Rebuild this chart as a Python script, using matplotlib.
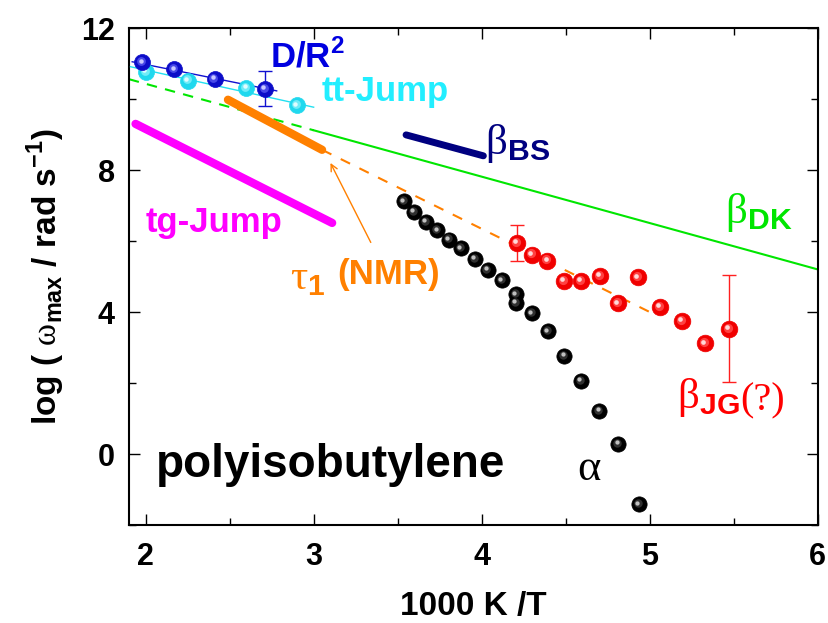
import matplotlib
matplotlib.use("Agg")
import matplotlib.pyplot as plt
from matplotlib.transforms import offset_copy
from matplotlib.ticker import MultipleLocator

plt.rcParams['font.family'] = ['Liberation Sans', 'DejaVu Sans']
plt.rcParams['mathtext.fontset'] = 'custom'
plt.rcParams['mathtext.rm'] = 'Liberation Sans:weight=bold'
plt.rcParams['mathtext.bf'] = 'Liberation Sans:weight=bold'
plt.rcParams['mathtext.sf'] = 'Liberation Serif:weight=normal'

# D/R^2 (blue spheres) and fit line
dr_x = [1.98, 2.17, 2.41, 2.71]
dr_y = [11.03, 10.84, 10.57, 10.29]
dr_err_x = [2.71]
dr_err_y = [10.29]
dr_err = [0.5]
dr_line_x = [1.92, 2.78]
dr_line_y = [11.05, 10.23]

# tt-Jump (cyan spheres) and fit line
tt_x = [2.00, 2.25, 2.60, 2.90]
tt_y = [10.77, 10.52, 10.31, 9.82]
tt_line_x = [1.91, 3.00]
tt_line_y = [10.91, 9.77]

# beta_DK: dashed part and solid part
dk_dash_x = [1.90, 3.00]
dk_dash_y = [10.56, 9.12]
dk_x = [3.00, 6.00]
dk_y = [9.12, 5.20]

# tau_1 (NMR) thick line and its dashed extrapolation
tau_x = [2.49, 3.05]
tau_y = [9.98, 8.57]
tau_ext_x = [3.05, 5.00]
tau_ext_y = [8.57, 4.00]

# beta_BS and tg-Jump thick lines
bs_x = [3.55, 4.01]
bs_y = [8.99, 8.40]
tg_x = [1.94, 3.11]
tg_y = [9.30, 6.51]

# alpha (black spheres)
alpha_x = [3.538, 3.597, 3.667, 3.737, 3.806, 3.876, 3.959, 4.035, 4.121,
           4.204, 4.204, 4.299, 4.393, 4.492, 4.592, 4.701, 4.814, 4.934]
alpha_y = [7.12, 6.82, 6.54, 6.30, 6.04, 5.79, 5.50, 5.18, 4.89,
           4.50, 4.26, 3.96, 3.46, 2.76, 2.06, 1.22, 0.28, -1.42]

# beta_JG (red spheres)
jg_x = [4.21, 4.30, 4.39, 4.49, 4.59, 4.705, 4.81, 4.93, 5.06, 5.19, 5.33, 5.47]
jg_y = [5.95, 5.62, 5.45, 4.87, 4.87, 5.01, 4.24, 4.98, 4.15, 3.75, 3.12, 3.53]
jg_err_x = [4.21, 5.47]
jg_err_y = [5.95, 3.53]
jg_err = [0.5, 1.5]


def spheres(ax, x, y, base, mid, hl, ms, z=5):
    ax.plot(x, y, 'o', ms=ms, mfc=base, mec=base, mew=0.5, ls='none', zorder=z)
    t1 = offset_copy(ax.transData, fig=ax.figure, x=-0.8, y=0.8, units='points')
    ax.plot(x, y, 'o', ms=ms * 0.55, mfc=mid, mec='none', ls='none',
            zorder=z + 0.1, transform=t1)
    t2 = offset_copy(ax.transData, fig=ax.figure, x=-1.2, y=1.2, units='points')
    ax.plot(x, y, 'o', ms=ms * 0.28, mfc=hl, mec='none', ls='none',
            zorder=z + 0.2, transform=t2)


fig = plt.figure(figsize=(8.29, 6.23), dpi=100)
ax = fig.add_axes([0.1554, 0.1573, 0.831, 0.7977])

green = '#00e600'
orange = '#ff8000'

ax.plot(dk_dash_x, dk_dash_y, color=green, lw=1.5, ls=(0, (5, 4)), zorder=2)
ax.plot(dk_x, dk_y, color=green, lw=1.5, zorder=2)
ax.plot(tau_ext_x, tau_ext_y, color=orange, lw=1.5, ls=(0, (5, 5)), zorder=2)
ax.plot(tau_x, tau_y, color=orange, lw=6, solid_capstyle='round', zorder=3)
ax.plot(tg_x, tg_y, color='#ff00ff', lw=6, solid_capstyle='round', zorder=3)
ax.plot(bs_x, bs_y, color='#000080', lw=5, solid_capstyle='round', zorder=3)

ax.plot(tt_line_x, tt_line_y, color='#22e0f0', lw=1, zorder=3)
ax.plot(dr_line_x, dr_line_y, color='#1010d0', lw=1, zorder=3)

spheres(ax, tt_x, tt_y, '#20d8ee', '#70ecf8', '#e0fcff', 11.5)
spheres(ax, dr_x, dr_y, '#0c0cc8', '#4848e8', '#c8c8ff', 11.5, z=6)
ax.errorbar(dr_err_x, dr_err_y, yerr=dr_err, fmt='none', ecolor='#1010d0',
            elinewidth=1, capsize=5, capthick=1, zorder=5.5)

spheres(ax, alpha_x, alpha_y, '#000000', '#303030', '#c0c0c0', 11)
spheres(ax, jg_x, jg_y, '#f00000', '#ff4040', '#ffd8d8', 12)
ax.errorbar(jg_err_x, jg_err_y, yerr=jg_err, fmt='none', ecolor='#ff2020',
            elinewidth=1, capsize=5, capthick=1, zorder=4)

ax.annotate('', xy=(3.10, 8.20), xytext=(3.34, 5.96),
            arrowprops=dict(arrowstyle='->', color=orange, lw=1,
                            mutation_scale=12, shrinkA=0, shrinkB=0))

# labels
kw = dict(fontsize=25, va='center', fontweight='bold')
gk = dict(fontsize=31, va='center')
ax.text(2.74, 11.2, r'D/R$^{\mathbf{2}}$', color='#0000e0', **kw)
ax.text(3.05, 10.2, 'tt-Jump', color='#22eeff', **kw)
ax.text(4.02, 8.75, r'$\mathsf{\beta}_{\mathbf{BS}}$', color='#000080', **gk)
ax.text(2.00, 6.52, 'tg-Jump', color='#ff00ff', **kw)
ax.text(2.86, 4.95, r'$\mathsf{\tau}_{\mathbf{1}}$', color=orange, **gk)
ax.text(3.14, 5.05, '(NMR)', color=orange, **kw)
ax.text(5.45, 6.80, r'$\mathsf{\beta}_{\mathbf{DK}}$', color=green, **gk)
ax.text(5.16, 1.60, r'$\mathsf{\beta}_{\mathbf{JG}}$', color='#ff0000', **gk)
ax.text(5.54, 1.50, '(?)', color='#ff0000', fontsize=29, va='center',
        family='Liberation Serif')
ax.text(4.57, -0.42, r'$\mathsf{\alpha}$', color='black', fontsize=32, va='center')
ax.text(2.06, -0.65, 'polyisobutylene', color='black', fontsize=33,
        va='baseline', fontweight='bold')

ax.set_xlim(1.9, 6.0)
ax.set_ylim(-2, 12)
ax.xaxis.set_major_locator(MultipleLocator(1))
ax.xaxis.set_minor_locator(MultipleLocator(0.5))
ax.yaxis.set_major_locator(MultipleLocator(4))
ax.yaxis.set_minor_locator(MultipleLocator(2))
ax.tick_params(which='both', direction='in', top=True, right=True, width=1,
               labelsize=22, pad=12)
ax.tick_params(axis='y', which='both', pad=10)
ax.tick_params(which='major', length=8)
ax.tick_params(which='minor', length=5)
for lab in ax.get_xticklabels() + ax.get_yticklabels():
    lab.set_fontweight('bold')
for s in ax.spines.values():
    s.set_linewidth(1.5)

ax.set_xlabel('1000 K /T', fontsize=24, labelpad=14, fontweight='bold')
ax.set_ylabel(r'log ( $\mathsf{\omega}_{\mathbf{max}}$ / rad s$^{\mathbf{-1}}$)',
              fontsize=24, labelpad=10, fontweight='bold')

fig.savefig('out.png', dpi=100)
